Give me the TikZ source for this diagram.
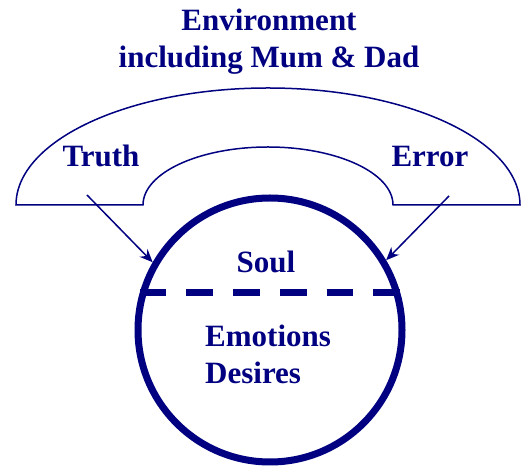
\documentclass[tikz,border=0pt]{standalone}
\usepackage{fontspec}
\setmainfont{Liberation Serif}
\usetikzlibrary{arrows.meta}
\definecolor{navy}{RGB}{0,0,128}

\begin{document}
\begin{tikzpicture}[x=1pt,y=1pt,
	lbl/.style={inner sep=0pt, text=navy, font=\bfseries\fontsize{31}{37}\selectfont},
	link/.style={navy, line width=1.5pt, -{Stealth[length=13pt,width=11pt]}}]
	\useasboundingbox (0,0) rectangle (530,468);

	% environment
	\draw [navy, line width=1.5pt] (16,263) arc [start angle=180, end angle=0, x radius=252, y radius=117]
		-- (393,263) arc [start angle=0, end angle=180, x radius=125, y radius=58] -- cycle;
	\node [lbl, align=center, anchor=base] (env) at (269,400) {Environment\\including Mum \& Dad};

	% soul
	\node [draw=navy, line width=7pt, circle, minimum size=264pt, inner sep=0pt] (ball) at (270,138) {};
	\draw [navy, line width=6.5pt, dash pattern=on 26.7pt off 20pt] (ball.164) -- (ball.16);
	\node [lbl, anchor=base] (soul) at (266,195) {Soul};
	\node [lbl, align=left, anchor=base west] (emo) at (205,84) {Emotions\\Desires};

	% label
	\node [lbl, anchor=base] (truth) at (101,301) {Truth};
	\node [lbl, anchor=base] (error) at (430,301) {Error};
	\coordinate (truthfoot) at (87,273);
	\coordinate (errorfoot) at (449,272);

	% arrows
	\draw [link] (truthfoot) -- (ball.150);
	\draw [link] (errorfoot) -- (ball.31);
\end{tikzpicture}
\end{document}
